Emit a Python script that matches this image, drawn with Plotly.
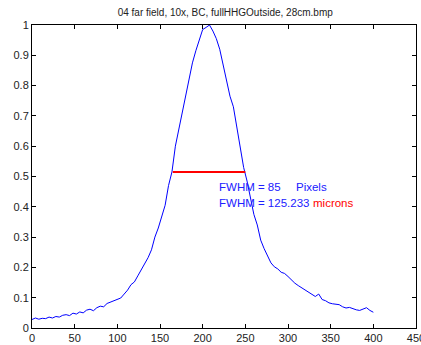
import plotly.graph_objects as go

# Beam line-out profile (normalised intensity vs. pixel)
pixel = list(range(0, 401, 4))
intensity = [
    0.028, 0.033, 0.029, 0.032, 0.031, 0.036, 0.033, 0.038, 0.036, 0.042,
    0.044, 0.041, 0.049, 0.046, 0.053, 0.050, 0.059, 0.062, 0.057, 0.067,
    0.072, 0.070, 0.081, 0.085, 0.091, 0.095, 0.099, 0.112, 0.125, 0.143,
    0.152, 0.172, 0.192, 0.210, 0.232, 0.258, 0.300, 0.330, 0.370, 0.405,
    0.470, 0.515, 0.600, 0.655, 0.705, 0.770, 0.820, 0.875, 0.915, 0.950,
    0.985, 0.992, 1.000, 0.980, 0.955, 0.920, 0.870, 0.815, 0.765, 0.730,
    0.665, 0.600, 0.530, 0.485, 0.425, 0.375, 0.340, 0.290, 0.262, 0.240,
    0.215, 0.202, 0.195, 0.184, 0.180, 0.170, 0.158, 0.148, 0.140, 0.133,
    0.124, 0.118, 0.110, 0.104, 0.112, 0.094, 0.090, 0.083, 0.080, 0.078,
    0.077, 0.070, 0.066, 0.068, 0.063, 0.060, 0.058, 0.062, 0.067, 0.058,
    0.052,
]

# Half-maximum segment
fwhm_x = [165, 250]
fwhm_level = [0.515, 0.515]
fwhm_pixels = 85
fwhm_microns = 125.233

title = "04 far field, 10x, BC, fullHHGOutside, 28cm.bmp"
x_ticks = list(range(0, 451, 50))
y_ticks = [round(0.1 * i, 1) for i in range(11)]

fig = go.Figure()
fig.add_trace(go.Scatter(x=pixel, y=intensity, mode="lines",
                         line=dict(color="#0000ff", width=1)))
fig.add_trace(go.Scatter(x=fwhm_x, y=fwhm_level, mode="lines",
                         line=dict(color="#ff0000", width=2)))

txt_font = dict(family="Liberation Sans, Arial", size=11.5, color="#2020ff")
fig.add_annotation(x=217, y=0.467, text=f"FWHM = {fwhm_pixels}", showarrow=False,
                   xanchor="left", yanchor="middle", font=txt_font)
fig.add_annotation(x=307, y=0.467, text="Pixels", showarrow=False,
                   xanchor="left", yanchor="middle", font=txt_font)
fig.add_annotation(x=217, y=0.411, text=f"FWHM = {fwhm_microns}", showarrow=False,
                   xanchor="left", yanchor="middle", font=txt_font)
fig.add_annotation(x=327, y=0.411, text="microns", showarrow=False,
                   xanchor="left", yanchor="middle",
                   font=dict(family="Liberation Sans, Arial", size=11.5, color="#ff0000"))

axis_common = dict(showline=True, linecolor="black", linewidth=1, mirror="ticks",
                   ticks="inside", ticklen=4, tickcolor="black", showgrid=False,
                   zeroline=False, automargin=False, ticklabeloverflow="allow",
                   tickfont=dict(family="Liberation Sans, Arial", size=11, color="#222222"))

fig.update_xaxes(range=[0, 450], tickvals=x_ticks, **axis_common)
fig.update_yaxes(range=[0, 1], tickvals=y_ticks, ticktext=[f"{v:g}" for v in y_ticks],
                 **axis_common)

fig.update_layout(
    width=421, height=345,
    margin=dict(l=32, r=5, t=25, b=17),
    paper_bgcolor="white", plot_bgcolor="white",
    showlegend=False,
    title=dict(text=title, x=0.535, xanchor="center", y=0.975, yanchor="top",
               font=dict(family="Liberation Sans, Arial", size=10, color="#222222")),
)

fig.write_html("out.html")
